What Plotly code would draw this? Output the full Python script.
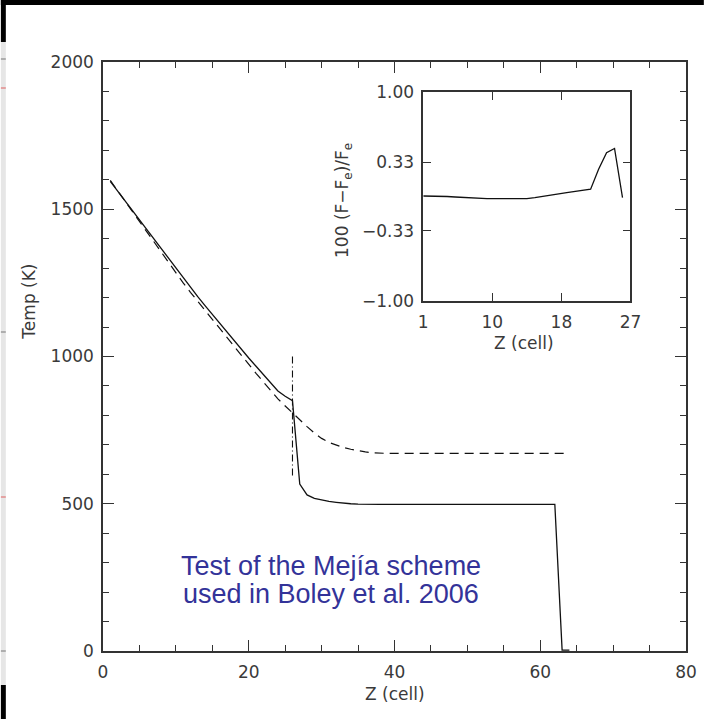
import plotly.graph_objects as go

# ---- data -------------------------------------------------------------
cell = list(range(1, 65))
temp_mejia = [1595, 1562, 1529, 1496, 1463, 1430, 1397, 1364, 1331, 1298,
              1265, 1233, 1203, 1173, 1143, 1113, 1083, 1053, 1023, 995,
              967, 939, 911, 883, 865, 850, 567, 530, 518, 512,
              508, 505, 502, 500, 499] + [498] * 27 + [3, 3]
temp_analytic = [1598, 1563, 1528, 1493, 1458, 1423, 1388, 1353, 1318, 1283,
                 1250, 1218, 1187, 1156, 1125, 1094, 1063, 1032, 1001, 972,
                 943, 914, 885, 856, 832, 808, 785, 762, 740, 722,
                 708, 699, 691, 685, 680, 676, 673] + [671] * 27
photosphere_z = [26, 26]
photosphere_T = [1000, 590]

inset_cell = list(range(1, 27))
inset_err = [0.005, 0.005, 0.004, 0.0, -0.005, -0.01, -0.015, -0.018, -0.02, -0.02,
             -0.02, -0.02, -0.02, -0.02, -0.01, 0.0, 0.012, 0.025, 0.038, 0.05,
             0.06, 0.07, 0.26, 0.42, 0.46, -0.01]
inset_tickvals = [1, 1 + 26 / 3, 1 + 52 / 3, 27]
inset_ticktext = ["1", "10", "18", "27"]
inset_ytickvals = [-1.0, -0.33, 0.33, 1.0]
inset_yticktext = ["\u22121.00", "\u22120.33", "0.33", "1.00"]

# ---- page geometry (pixels) -------------------------------------------
W, H = 709, 719
L, R, T, B = 103, 691, 62, 651


def fx(x):
    return (x - L) / (R - L)


def fy(y):
    return (B - y) / (B - T)


INK = "#111111"
FRAME = "#333333"
TXT = "#3a3a3a"
FONT = "DejaVu Sans"

fig = go.Figure()

fig.add_trace(go.Scatter(x=cell, y=temp_mejia, mode="lines",
                         line=dict(color=INK, width=1.3), showlegend=False))
fig.add_trace(go.Scatter(x=cell, y=temp_analytic, mode="lines",
                         line=dict(color=INK, width=1.2, dash="9px,6px"),
                         showlegend=False))
fig.add_trace(go.Scatter(x=photosphere_z, y=photosphere_T, mode="lines",
                         line=dict(color=INK, width=1.1, dash="7px,3px,1px,3px"),
                         showlegend=False))
fig.add_trace(go.Scatter(x=inset_cell, y=inset_err, mode="lines",
                         line=dict(color=INK, width=1.3), showlegend=False,
                         xaxis="x2", yaxis="y2"))

axis_common = dict(showline=True, mirror="ticks", linecolor=FRAME, linewidth=1.5,
                   ticks="inside", tickcolor=FRAME, tickwidth=1.3,
                   showgrid=False, zeroline=False,
                   tickfont=dict(family=FONT, size=17, color=TXT))

fig.update_layout(
    width=W, height=H,
    margin=dict(l=L, r=W - R, t=T, b=H - B, pad=0),
    paper_bgcolor="white", plot_bgcolor="white",
    xaxis=dict(range=[0, 80], tickvals=[0, 20, 40, 60, 80], ticklen=11,
               minor=dict(dtick=5, ticklen=6, ticks="inside", tickcolor=FRAME,
                          tickwidth=1.3),
               ticklabelstandoff=5, **axis_common),
    yaxis=dict(range=[0, 2000], tickvals=[0, 500, 1000, 1500, 2000], ticklen=11,
               minor=dict(dtick=100, ticklen=6, ticks="inside", tickcolor=FRAME,
                          tickwidth=1.3),
               ticklabelstandoff=4, **axis_common),
    xaxis2=dict(domain=[fx(426), fx(635)], anchor="y2", range=[1, 27],
                tickvals=inset_tickvals, ticktext=inset_ticktext, ticklen=8,
                ticklabelstandoff=5, **axis_common),
    yaxis2=dict(domain=[fy(301), fy(92)], anchor="x2", range=[-1, 1],
                tickvals=inset_ytickvals, ticktext=inset_yticktext, ticklen=8,
                ticklabelstandoff=4, **axis_common),
)

title_font = dict(family=FONT, size=17, color=TXT)
ann = [
    dict(text="Z (cell)", x=fx(397), y=fy(694)),
    dict(text="Temp (K)", x=fx(28), y=fy(302), textangle=-90),
    dict(text="Z (cell)", x=fx(528), y=fy(343)),
    dict(text="100 (F\u2212F<sub>e</sub>)/F<sub>e</sub>", x=fx(345), y=fy(200),
         textangle=-90),
]
for a in ann:
    fig.add_annotation(xref="paper", yref="paper", showarrow=False,
                       xanchor="center", yanchor="middle", font=title_font, **a)

note_font = dict(family="Liberation Sans", size=27, color="#333399")
fig.add_annotation(text="Test of the Mejía scheme",
                   x=fx(333), y=fy(566), xref="paper", yref="paper",
                   showarrow=False, xanchor="center", yanchor="middle",
                   font=note_font)
fig.add_annotation(text="used in Boley et al. 2006",
                   x=fx(333), y=fy(594), xref="paper", yref="paper",
                   showarrow=False, xanchor="center", yanchor="middle",
                   font=note_font)

# slide edge: dark bands and the neighbouring pale strip
edge = [
    (0, 0, W, 5, "black"),
    (0, 0, 5, 42, "black"),
    (0, 42, 5, 685, "#e6e6e6"),
    (0, 685, 5, H, "black"),
]
for x0, y0, x1, y1, col in edge:
    fig.add_shape(type="rect", xref="paper", yref="paper",
                  x0=fx(x0), x1=fx(x1), y0=fy(y0), y1=fy(y1),
                  fillcolor=col, line=dict(width=0), layer="above")
for yy, col in [(59, "#777777"), (88, "#e06060"), (332, "#777777"),
                (497, "#e06060"), (651, "#777777")]:
    fig.add_shape(type="line", xref="paper", yref="paper",
                  x0=fx(0), x1=fx(5), y0=fy(yy), y1=fy(yy),
                  line=dict(color=col, width=1), layer="above")

fig.write_html("out.html")
